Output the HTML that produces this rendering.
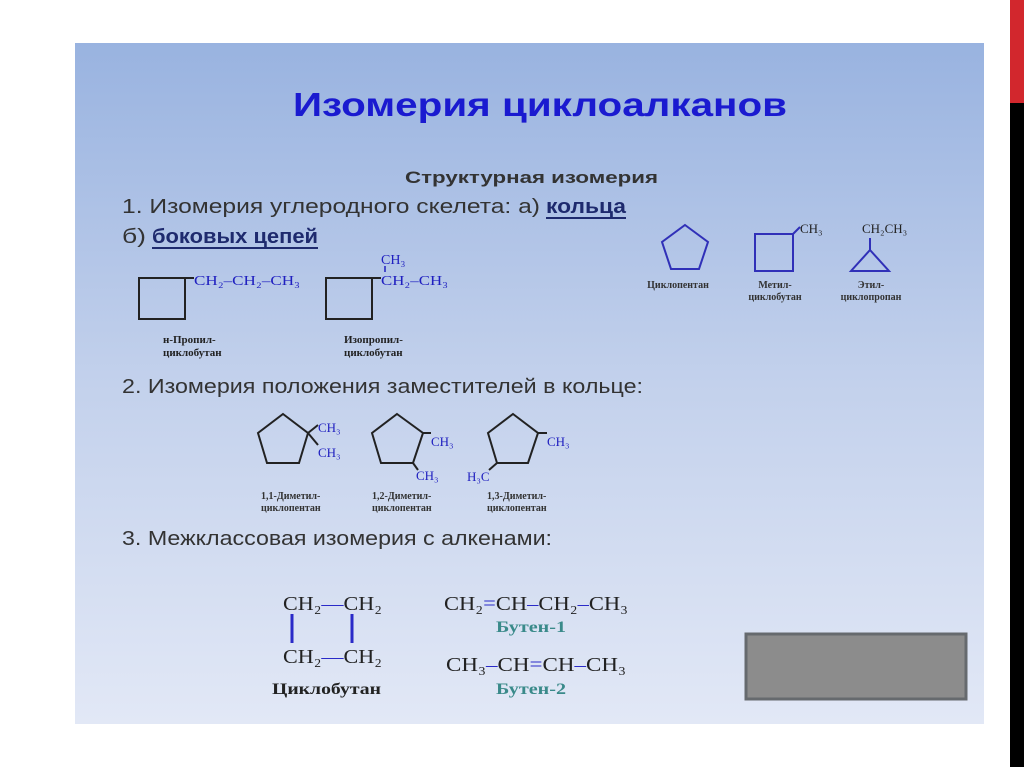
<!DOCTYPE html>
<html><head><meta charset="utf-8"><style>
body{margin:0;width:1024px;height:767px;overflow:hidden;background:#fff}
svg{display:block}
.s{font-family:"Liberation Sans","DejaVu Sans",sans-serif}
.f{font-family:"Liberation Serif","DejaVu Serif",serif}
</style></head><body>
<svg width="1024" height="767" viewBox="0 0 1024 767" xmlns="http://www.w3.org/2000/svg">
<defs><linearGradient id="g" x1="0" y1="0" x2="0" y2="1">
<stop offset="0" stop-color="#99b3e0"/><stop offset="0.5" stop-color="#c3d1ec"/><stop offset="1" stop-color="#e2e8f6"/></linearGradient></defs>
<rect x="75" y="43" width="909" height="681" fill="url(#g)"/>
<rect x="1010" y="0" width="14" height="103" fill="#d2272d"/>
<rect x="1010" y="103" width="14" height="664" fill="#000"/>
<rect x="746" y="634" width="220" height="65" fill="#8c8c8c" stroke="#666a6e" stroke-width="3"/>

<text class="s" x="293" y="116" font-size="33" font-weight="bold" fill="#1a1ad0" textLength="494" lengthAdjust="spacingAndGlyphs">Изомерия циклоалканов</text>
<text class="s" x="405" y="183" font-size="17" font-weight="bold" fill="#333" textLength="253" lengthAdjust="spacingAndGlyphs">Структурная изомерия</text>
<text class="s" x="122" y="213" font-size="20" fill="#333" textLength="418" lengthAdjust="spacingAndGlyphs">1.  Изомерия углеродного скелета:    а)</text>
<text class="s" x="546" y="213" font-size="20" font-weight="bold" fill="#1e2a6e" textLength="80" lengthAdjust="spacingAndGlyphs">кольца</text>
<rect x="546" y="217" width="80" height="2" fill="#1e2a6e"/>
<text class="s" x="122" y="243" font-size="20" fill="#333" textLength="24" lengthAdjust="spacingAndGlyphs">б)</text>
<text class="s" x="152" y="243" font-size="20" font-weight="bold" fill="#1e2a6e" textLength="166" lengthAdjust="spacingAndGlyphs">боковых цепей</text>
<rect x="152" y="247" width="166" height="2" fill="#1e2a6e"/>

<g stroke="#222" stroke-width="2" fill="none">
<rect x="139" y="278" width="46" height="41"/>
<line x1="185" y1="278" x2="194" y2="278"/>
<rect x="326" y="278" width="46" height="41"/>
<line x1="372" y1="278" x2="381" y2="278"/>
</g>
<text class="f" x="194" y="285" font-size="14" fill="#2020c0" textLength="106" lengthAdjust="spacingAndGlyphs">CH₂–CH₂–CH₃</text>
<text class="f" x="381" y="264" font-size="14" fill="#2020c0">CH₃</text>
<line x1="385" y1="266" x2="385" y2="272" stroke="#2020c0" stroke-width="1.5"/>
<text class="f" x="381" y="285" font-size="14" fill="#2020c0" textLength="67" lengthAdjust="spacingAndGlyphs">CH₂–CH₃</text>
<g class="f" font-size="11" font-weight="bold" fill="#222">
<text x="163" y="343">н-Пропил-</text><text x="163" y="356">циклобутан</text>
<text x="344" y="343">Изопропил-</text><text x="344" y="356">циклобутан</text>
</g>

<g stroke="#3030b8" stroke-width="2" fill="none">
<polygon points="685,225 708,242 699,269 671,269 662,242"/>
<rect x="755" y="234" width="38" height="37"/>
<line x1="793" y1="234" x2="800" y2="227"/>
<polygon points="870,250 889,271 851,271"/>
<line x1="870" y1="250" x2="870" y2="238"/>
</g>
<text class="f" x="800" y="233" font-size="13" fill="#222">CH₃</text>
<text class="f" x="862" y="233" font-size="13" fill="#222">CH₂CH₃</text>
<g class="f" font-size="10" font-weight="bold" fill="#333" text-anchor="middle">
<text x="678" y="288">Циклопентан</text>
<text x="775" y="288">Метил-</text><text x="775" y="300">циклобутан</text>
<text x="871" y="288">Этил-</text><text x="871" y="300">циклопропан</text>
</g>

<text class="s" x="122" y="393" font-size="20" fill="#333" textLength="521" lengthAdjust="spacingAndGlyphs">2. Изомерия положения заместителей в кольце:</text>

<g stroke="#222" stroke-width="2" fill="none">
<polygon points="283,414 308,433 299,463 267,463 258,433"/>
<line x1="308" y1="433" x2="318" y2="425"/><line x1="308" y1="433" x2="318" y2="445"/>
<polygon points="397,414 423,433 413,463 381,463 372,433"/>
<line x1="423" y1="433" x2="431" y2="433"/><line x1="413" y1="463" x2="418" y2="470"/>
<polygon points="513,414 538,433 528,463 497,463 488,433"/>
<line x1="538" y1="433" x2="547" y2="433"/><line x1="497" y1="463" x2="489" y2="470"/>
</g>
<g class="f" font-size="13" fill="#2020c0">
<text x="318" y="432">CH₃</text><text x="318" y="457">CH₃</text>
<text x="431" y="446">CH₃</text><text x="416" y="480">CH₃</text>
<text x="547" y="446">CH₃</text><text x="467" y="481">H₃C</text>
</g>
<g class="f" font-size="10" font-weight="bold" fill="#333">
<text x="261" y="499">1,1-Диметил-</text><text x="261" y="511">циклопентан</text>
<text x="372" y="499">1,2-Диметил-</text><text x="372" y="511">циклопентан</text>
<text x="487" y="499">1,3-Диметил-</text><text x="487" y="511">циклопентан</text>
</g>

<text class="s" x="122" y="545" font-size="20" fill="#333" textLength="430" lengthAdjust="spacingAndGlyphs">3. Межклассовая изомерия с алкенами:</text>

<g class="f" font-size="20" fill="#222">
<text x="283" y="610" textLength="99" lengthAdjust="spacingAndGlyphs">CH₂<tspan fill="#2a2ac8">—</tspan>CH₂</text>
<text x="283" y="663" textLength="99" lengthAdjust="spacingAndGlyphs">CH₂<tspan fill="#2a2ac8">—</tspan>CH₂</text>
<text x="444" y="610" textLength="184" lengthAdjust="spacingAndGlyphs">CH₂<tspan fill="#2a2ac8">=</tspan>CH<tspan fill="#2a2ac8">–</tspan>CH₂<tspan fill="#2a2ac8">–</tspan>CH₃</text>
<text x="446" y="671" textLength="180" lengthAdjust="spacingAndGlyphs">CH₃<tspan fill="#2a2ac8">–</tspan>CH<tspan fill="#2a2ac8">=</tspan>CH<tspan fill="#2a2ac8">–</tspan>CH₃</text>
</g>
<g stroke="#2a2ac8" stroke-width="3">
<line x1="292" y1="614" x2="292" y2="643"/><line x1="352" y1="614" x2="352" y2="643"/>
</g>
<text class="f" x="272" y="694" font-size="16" font-weight="bold" fill="#222" textLength="109" lengthAdjust="spacingAndGlyphs">Циклобутан</text>
<text class="f" x="496" y="632" font-size="16" font-weight="bold" fill="#3a8a8a" textLength="70" lengthAdjust="spacingAndGlyphs">Бутен-1</text>
<text class="f" x="496" y="694" font-size="16" font-weight="bold" fill="#3a8a8a" textLength="70" lengthAdjust="spacingAndGlyphs">Бутен-2</text>
</svg>
</body></html>
